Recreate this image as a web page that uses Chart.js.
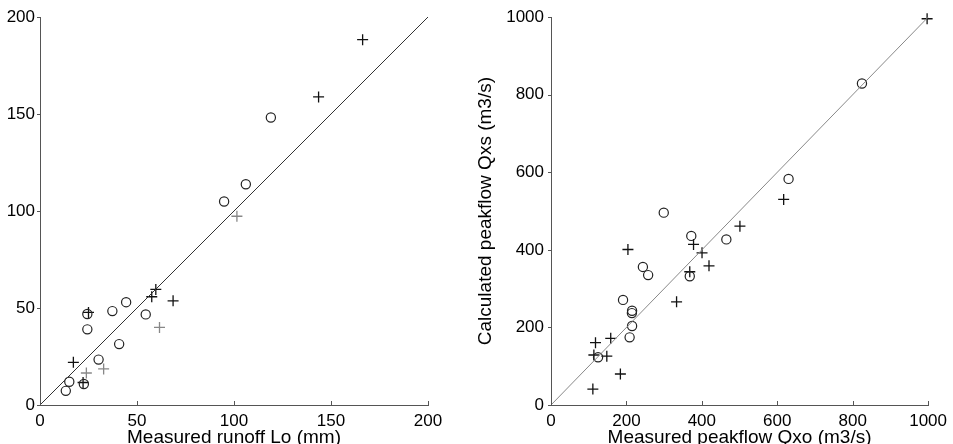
<!DOCTYPE html>
<html>
<head>
<meta charset="utf-8">
<script src="https://cdn.jsdelivr.net/npm/chart.js@4.4.0/dist/chart.umd.min.js"></script>
<style>
  html, body { margin: 0; padding: 0; background: #fff; overflow: hidden; width: 953px; height: 444px; }
  #left { position: absolute; left: 0; top: 0; }
  #right { position: absolute; left: 460px; top: 0; }
</style>
</head>
<body>
<canvas id="left" width="460" height="456"></canvas>
<canvas id="right" width="493" height="456"></canvas>
<script>
// Left panel: runoff (mm)
const runoffCircleX = [13.3, 15.1, 22.6, 24.4, 24.4, 30.2, 37.3, 40.8, 44.4, 54.5, 94.9, 106.1, 119.0];
const runoffCircleY = [7.3, 12.0, 10.8, 39.0, 46.9, 23.4, 48.4, 31.4, 53.0, 46.7, 104.9, 113.8, 148.2];
const runoffPlusX = [17.2, 22.2, 25.0, 57.6, 59.7, 68.6, 143.6, 166.3];
const runoffPlusY = [22.0, 11.6, 47.7, 55.8, 59.6, 53.7, 158.8, 188.3];
const runoffGreyX = [23.9, 32.8, 61.6, 101.5];
const runoffGreyY = [16.5, 18.6, 40.0, 97.3];
const runoffTicks = [0, 50, 100, 150, 200];

// Right panel: peakflow (m3/s)
const peakCircleX = [124.8, 191, 208.5, 215, 214.5, 215, 243.7, 257.6, 299, 368, 372, 465, 630, 824.6];
const peakCircleY = [123, 271, 174.5, 203.6, 237, 243, 356, 335, 496, 332, 436, 427, 583, 829];
const peakPlusX = [111, 118, 113.7, 148, 158.4, 184, 204, 333, 368, 378, 400.5, 419, 501, 617, 997.4];
const peakPlusY = [41, 160.6, 128.9, 126, 171.9, 80, 401, 266, 343.6, 414, 392.5, 359, 461, 530, 996];
const peakTicks = [0, 200, 400, 600, 800, 1000];

const FONT = '"Liberation Sans", Arial, Helvetica, sans-serif';

function pts(xs, ys) {
  return xs.map((x, i) => ({ x: x, y: ys[i] }));
}

// MATLAB-ish tick marks: x ticks point inward, y ticks point outward
const tickMarks = {
  id: 'tickMarks',
  afterDraw(chart) {
    const { ctx, chartArea: a } = chart;
    const x = chart.scales.x, y = chart.scales.y;
    ctx.save();
    ctx.strokeStyle = '#555';
    ctx.lineWidth = 1;
    ctx.beginPath();
    x.ticks.forEach(t => {
      const px = Math.round(x.getPixelForValue(t.value)) + 0.5;
      ctx.moveTo(px, a.bottom);
      ctx.lineTo(px, a.bottom - 4);
    });
    y.ticks.forEach(t => {
      const py = Math.round(y.getPixelForValue(t.value)) + 0.5;
      ctx.moveTo(a.left, py);
      ctx.lineTo(a.left - 3, py);
    });
    ctx.stroke();
    ctx.restore();
  }
};

function makeChart(id, opts) {
  const max = opts.ticks[opts.ticks.length - 1];
  const datasets = [
    {
      data: [{ x: 0, y: 0 }, { x: max, y: max }],
      showLine: true,
      borderColor: opts.lineColor,
      borderWidth: 1,
      pointRadius: 0,
      clip: false
    },
    {
      data: opts.circles,
      pointStyle: 'circle',
      pointRadius: 4.6,
      borderColor: '#222',
      backgroundColor: 'rgba(0,0,0,0)',
      borderWidth: 1.2,
      clip: false
    },
    {
      data: opts.plus,
      pointStyle: 'cross',
      pointRadius: 5.5,
      borderColor: '#111',
      borderWidth: 1.3,
      clip: false
    }
  ];
  if (opts.grey) {
    datasets.push({
      data: opts.grey,
      pointStyle: 'cross',
      pointRadius: 5.5,
      borderColor: '#888',
      borderWidth: 1.3,
      clip: false
    });
  }
  const tickFont = { size: 17, family: FONT };
  return new Chart(document.getElementById(id), {
    type: 'scatter',
    data: { datasets: datasets },
    options: {
      responsive: false,
      animation: false,
      events: [],
      layout: { padding: { top: 17, right: opts.padRight, left: 0, bottom: 0 } },
      plugins: { legend: { display: false }, tooltip: { enabled: false } },
      scales: {
        x: {
          type: 'linear',
          min: 0,
          max: max,
          afterBuildTicks: s => { s.ticks = opts.ticks.map(v => ({ value: v })); },
          ticks: { padding: 6, color: '#000', font: tickFont, maxRotation: 0, callback: v => String(v) },
          grid: { display: false, drawTicks: false },
          border: { color: '#555', width: 1 },
          title: {
            display: true,
            text: opts.xTitle,
            color: '#000',
            font: { size: 19, family: FONT },
            padding: { top: 0, bottom: 7 }
          },
          afterFit: s => { s.height = 51; }
        },
        y: {
          type: 'linear',
          min: 0,
          max: max,
          afterBuildTicks: s => { s.ticks = opts.ticks.map(v => ({ value: v })); },
          ticks: { padding: opts.yPad, color: '#000', font: tickFont, callback: v => String(v) },
          grid: { display: false, drawTicks: false },
          border: { color: '#555', width: 1 },
          title: {
            display: !!opts.yTitle,
            text: opts.yTitle || '',
            color: '#000',
            font: { size: 19, family: FONT },
            padding: { top: 14, bottom: 0 }
          },
          afterFit: s => { s.width = opts.yWidth; }
        }
      }
    },
    plugins: [tickMarks]
  });
}

makeChart('left', {
  ticks: runoffTicks,
  circles: pts(runoffCircleX, runoffCircleY),
  plus: pts(runoffPlusX, runoffPlusY),
  grey: pts(runoffGreyX, runoffGreyY),
  lineColor: '#333',
  xTitle: 'Measured runoff Lo (mm)',
  yTitle: null,
  yWidth: 40,
  yPad: 5,
  padRight: 32
});

makeChart('right', {
  ticks: peakTicks,
  circles: pts(peakCircleX, peakCircleY),
  plus: pts(peakPlusX, peakPlusY),
  grey: null,
  lineColor: '#888',
  xTitle: 'Measured peakflow Qxo (m3/s)',
  yTitle: 'Calculated peakflow Qxs (m3/s)',
  yWidth: 91,
  yPad: 7,
  padRight: 15
});
</script>
</body>
</html>
